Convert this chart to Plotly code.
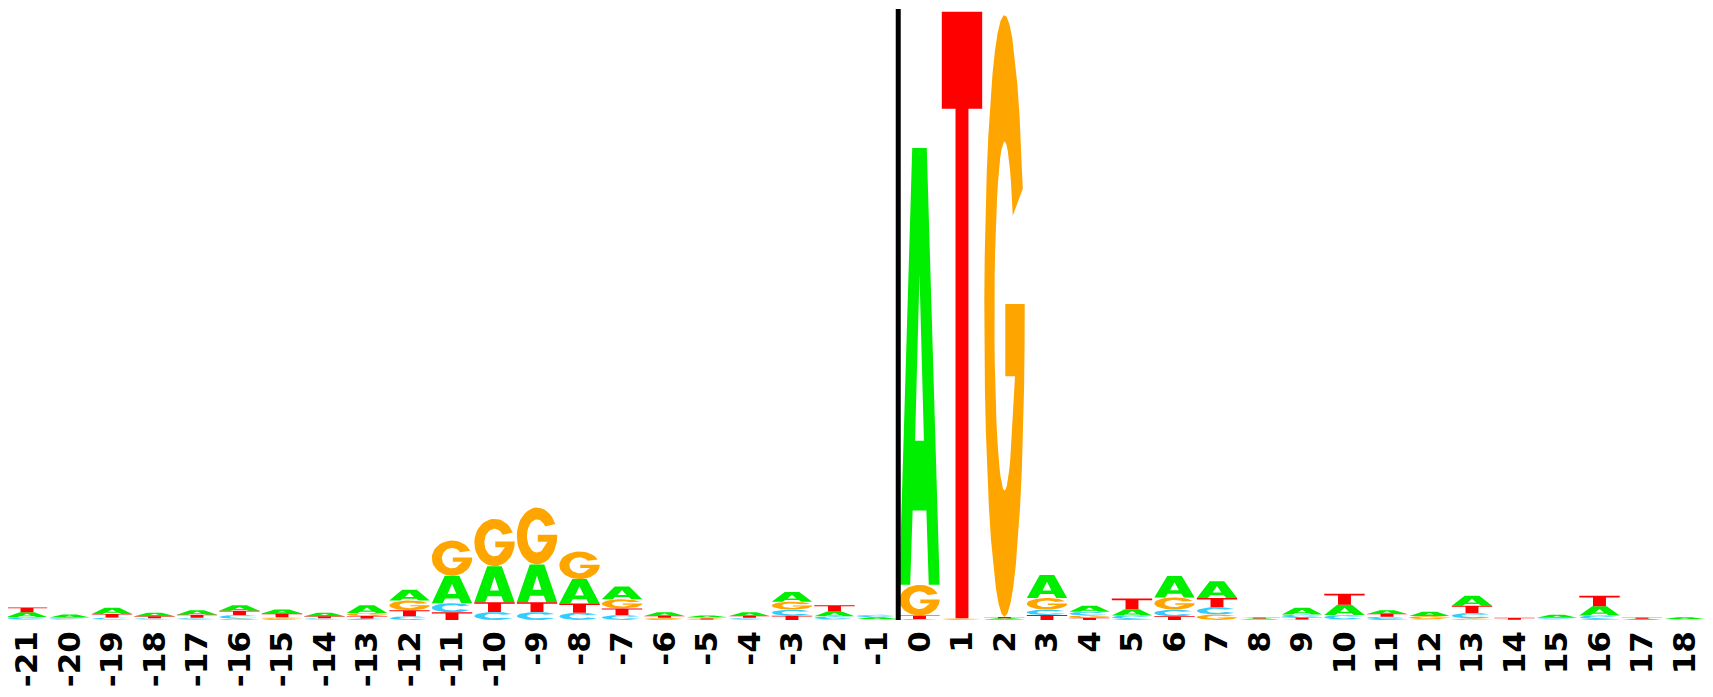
import numpy as np
import plotly.graph_objects as go

# ---------------- data (bits) ----------------
positions = list(range(-21, 19))
tick_labels = [str(p) for p in positions]

bits_A = [0.015, 0.010, 0.020, 0.012, 0.015, 0.018, 0.013, 0.012, 0.025, 0.035,
          0.090, 0.118, 0.124, 0.080, 0.042, 0.012, 0.006, 0.012, 0.032, 0.016,
          0.006, 1.430, 0.002, 0.004, 0.075, 0.020, 0.020, 0.070, 0.055, 0.003,
          0.022, 0.034, 0.012, 0.014, 0.032, 0.001, 0.010, 0.030, 0.003, 0.006]
bits_C = [0.008, 0.004, 0.006, 0.004, 0.005, 0.012, 0.003, 0.004, 0.005, 0.012,
          0.030, 0.026, 0.026, 0.024, 0.016, 0.003, 0.002, 0.005, 0.020, 0.010,
          0.008, 0.003, 0.002, 0.002, 0.018, 0.012, 0.012, 0.022, 0.024, 0.001,
          0.010, 0.014, 0.008, 0.002, 0.018, 0.000, 0.004, 0.012, 0.001, 0.001]
bits_G = [0.002, 0.003, 0.002, 0.002, 0.002, 0.004, 0.006, 0.002, 0.010, 0.032,
          0.115, 0.155, 0.186, 0.090, 0.030, 0.004, 0.004, 0.002, 0.026, 0.002,
          0.001, 0.100, 0.002, 1.970, 0.038, 0.008, 0.003, 0.040, 0.018, 0.001,
          0.002, 0.002, 0.003, 0.010, 0.005, 0.000, 0.002, 0.003, 0.000, 0.002]
bits_T = [0.016, 0.001, 0.012, 0.006, 0.010, 0.014, 0.012, 0.006, 0.008, 0.020,
          0.025, 0.032, 0.032, 0.030, 0.022, 0.006, 0.003, 0.006, 0.014, 0.020,
          0.002, 0.012, 1.985, 0.004, 0.016, 0.007, 0.035, 0.012, 0.030, 0.003,
          0.006, 0.036, 0.009, 0.001, 0.024, 0.006, 0.001, 0.034, 0.004, 0.000]

letters = ["A", "C", "G", "T"]
bits = {"A": bits_A, "C": bits_C, "G": bits_G, "T": bits_T}
colors = {"A": "#00EE00", "C": "#33CCFF", "G": "#FFA500", "T": "#FF0000"}
y_top = 2.003
sep_height = 2.0
letter_width = 0.95


# ---------------- glyph outlines in a unit box ----------------
def arc(cx, cy, rx, ry, a0, a1, n=40):
    t = np.radians(np.linspace(a0, a1, n))
    return list(zip(cx + rx * np.cos(t), cy + ry * np.sin(t)))


def glyph(letter):
    if letter == "A":
        outer = [(0, 0), (0.27, 0), (0.33, 0.17), (0.67, 0.17), (0.73, 0),
                 (1, 0), (0.68, 1), (0.32, 1)]
        hole = [(0.39, 0.33), (0.5, 0.71), (0.61, 0.33)]
        return [outer, hole]
    if letter == "T":
        return [[(0, 1), (0, 0.84), (0.34, 0.84), (0.34, 0), (0.66, 0),
                 (0.66, 0.84), (1, 0.84), (1, 1)]]
    if letter == "C":
        ring = arc(0.5, 0.5, 0.5, 0.5, 30, 330) + arc(0.5, 0.5, 0.25, 0.29, 325, 35)
        return [ring]
    if letter == "G":
        ring = (arc(0.5, 0.5, 0.5, 0.5, 25, 355)
                + [(1.0, 0.52), (0.52, 0.52), (0.52, 0.40), (0.76, 0.40)]
                + arc(0.5, 0.5, 0.25, 0.29, 320, 35))
        return [ring]
    return []


# ---------------- build stacked letters ----------------
xs = {l: [] for l in letters}
ys = {l: [] for l in letters}
for i, pos in enumerate(positions):
    col = sorted(letters, key=lambda l: bits[l][i])
    base = 0.0
    for l in col:
        h = bits[l][i]
        if h <= 0:
            continue
        for ring in glyph(l):
            for gx, gy in ring:
                xs[l].append(pos - letter_width / 2 + gx * letter_width)
                ys[l].append(base + gy * h)
            xs[l].append(None)
            ys[l].append(None)
        base += h

fig = go.Figure()
for l in letters:
    fig.add_trace(go.Scatter(
        x=xs[l], y=ys[l], mode="lines", fill="toself",
        fillcolor=colors[l], line=dict(width=0, color=colors[l]),
        hoverinfo="skip", showlegend=False))

# separator between -1 and 0
sep_x = (positions[positions.index(-1)] + positions[positions.index(0)]) / 2
fig.add_trace(go.Scatter(x=[sep_x, sep_x], y=[0, sep_height], mode="lines",
                         line=dict(color="black", width=5),
                         hoverinfo="skip", showlegend=False))

fig.update_layout(
    width=1705, height=689,
    margin=dict(l=0, r=0, t=0, b=77),
    paper_bgcolor="white", plot_bgcolor="white",
    xaxis=dict(range=[positions[0] - 0.447, positions[-1] + 0.671],
               tickmode="array", tickvals=positions, ticktext=tick_labels,
               tickangle=-90, showgrid=False, zeroline=False, showline=False,
               ticks="", ticklabelstandoff=4,
               tickfont=dict(family="DejaVu Sans", size=31, color="black",
                             weight="bold")),
    yaxis=dict(range=[0, y_top], visible=False, showgrid=False, zeroline=False),
)

fig.write_html("out.html")
